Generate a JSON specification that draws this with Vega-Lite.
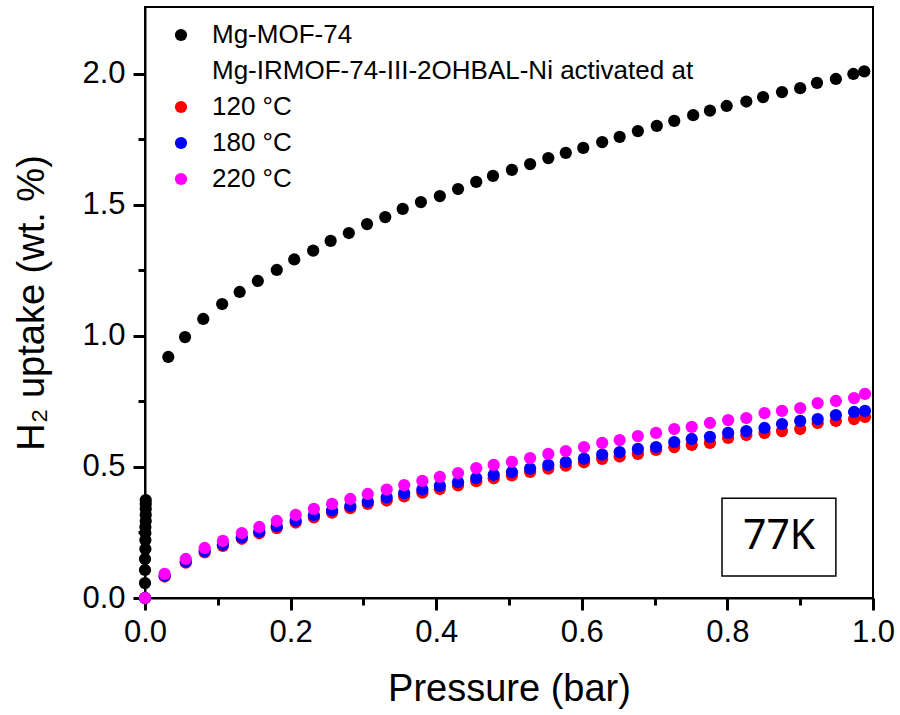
{
  "$schema": "https://vega.github.io/schema/vega-lite/v6.json",
  "width": 728,
  "height": 591,
  "autosize": {"type": "none"},
  "padding": {"left": 145, "top": 7, "right": 27, "bottom": 117},
  "background": "white",
  "config": {
    "view": {"stroke": "black", "strokeWidth": 2},
    "axis": {"grid": false, "ticks": true, "domainColor": "black", "domainWidth": 2, "tickColor": "black", "tickWidth": 3, "tickOpacity": 1, "labelColor": "black", "titleColor": "black", "labelFont": "Liberation Sans", "titleFont": "Liberation Sans", "titleFontWeight": "normal", "labelFlush": false, "labelOverlap": false}
  },
  "datasets": {
    "pts": [
      {"sample": "Mg-MOF-74", "p": 0.0, "u": 0.0},
      {"sample": "Mg-MOF-74", "p": 0.0, "u": 0.057},
      {"sample": "Mg-MOF-74", "p": 0.0, "u": 0.107},
      {"sample": "Mg-MOF-74", "p": 0.0, "u": 0.149},
      {"sample": "Mg-MOF-74", "p": 0.0005, "u": 0.187},
      {"sample": "Mg-MOF-74", "p": 0.0005, "u": 0.221},
      {"sample": "Mg-MOF-74", "p": 0.0005, "u": 0.248},
      {"sample": "Mg-MOF-74", "p": 0.0005, "u": 0.271},
      {"sample": "Mg-MOF-74", "p": 0.001, "u": 0.294},
      {"sample": "Mg-MOF-74", "p": 0.001, "u": 0.317},
      {"sample": "Mg-MOF-74", "p": 0.001, "u": 0.340},
      {"sample": "Mg-MOF-74", "p": 0.001, "u": 0.359},
      {"sample": "Mg-MOF-74", "p": 0.001, "u": 0.374},
      {"sample": "Mg-MOF-74", "p": 0.032, "u": 0.920},
      {"sample": "Mg-MOF-74", "p": 0.055, "u": 0.996},
      {"sample": "Mg-MOF-74", "p": 0.080, "u": 1.065},
      {"sample": "Mg-MOF-74", "p": 0.106, "u": 1.122},
      {"sample": "Mg-MOF-74", "p": 0.130, "u": 1.168},
      {"sample": "Mg-MOF-74", "p": 0.155, "u": 1.210},
      {"sample": "Mg-MOF-74", "p": 0.181, "u": 1.252},
      {"sample": "Mg-MOF-74", "p": 0.205, "u": 1.292},
      {"sample": "Mg-MOF-74", "p": 0.231, "u": 1.326},
      {"sample": "Mg-MOF-74", "p": 0.255, "u": 1.363},
      {"sample": "Mg-MOF-74", "p": 0.280, "u": 1.393},
      {"sample": "Mg-MOF-74", "p": 0.305, "u": 1.427},
      {"sample": "Mg-MOF-74", "p": 0.330, "u": 1.454},
      {"sample": "Mg-MOF-74", "p": 0.354, "u": 1.485},
      {"sample": "Mg-MOF-74", "p": 0.379, "u": 1.511},
      {"sample": "Mg-MOF-74", "p": 0.405, "u": 1.534},
      {"sample": "Mg-MOF-74", "p": 0.430, "u": 1.561},
      {"sample": "Mg-MOF-74", "p": 0.455, "u": 1.588},
      {"sample": "Mg-MOF-74", "p": 0.478, "u": 1.611},
      {"sample": "Mg-MOF-74", "p": 0.504, "u": 1.634},
      {"sample": "Mg-MOF-74", "p": 0.529, "u": 1.656},
      {"sample": "Mg-MOF-74", "p": 0.554, "u": 1.679},
      {"sample": "Mg-MOF-74", "p": 0.578, "u": 1.699},
      {"sample": "Mg-MOF-74", "p": 0.602, "u": 1.718},
      {"sample": "Mg-MOF-74", "p": 0.628, "u": 1.740},
      {"sample": "Mg-MOF-74", "p": 0.652, "u": 1.760},
      {"sample": "Mg-MOF-74", "p": 0.677, "u": 1.782},
      {"sample": "Mg-MOF-74", "p": 0.703, "u": 1.802},
      {"sample": "Mg-MOF-74", "p": 0.727, "u": 1.821},
      {"sample": "Mg-MOF-74", "p": 0.753, "u": 1.843},
      {"sample": "Mg-MOF-74", "p": 0.776, "u": 1.860},
      {"sample": "Mg-MOF-74", "p": 0.799, "u": 1.878},
      {"sample": "Mg-MOF-74", "p": 0.826, "u": 1.895},
      {"sample": "Mg-MOF-74", "p": 0.849, "u": 1.912},
      {"sample": "Mg-MOF-74", "p": 0.875, "u": 1.931},
      {"sample": "Mg-MOF-74", "p": 0.900, "u": 1.946},
      {"sample": "Mg-MOF-74", "p": 0.923, "u": 1.966},
      {"sample": "Mg-MOF-74", "p": 0.949, "u": 1.981},
      {"sample": "Mg-MOF-74", "p": 0.973, "u": 2.000},
      {"sample": "Mg-MOF-74", "p": 0.988, "u": 2.010},

      {"sample": "120 °C", "p": 0.0, "u": 0.0},
      {"sample": "120 °C", "p": 0.027, "u": 0.082},
      {"sample": "120 °C", "p": 0.056, "u": 0.135},
      {"sample": "120 °C", "p": 0.082, "u": 0.174},
      {"sample": "120 °C", "p": 0.107, "u": 0.199},
      {"sample": "120 °C", "p": 0.133, "u": 0.226},
      {"sample": "120 °C", "p": 0.157, "u": 0.247},
      {"sample": "120 °C", "p": 0.181, "u": 0.267},
      {"sample": "120 °C", "p": 0.207, "u": 0.288},
      {"sample": "120 °C", "p": 0.232, "u": 0.308},
      {"sample": "120 °C", "p": 0.257, "u": 0.326},
      {"sample": "120 °C", "p": 0.282, "u": 0.343},
      {"sample": "120 °C", "p": 0.306, "u": 0.359},
      {"sample": "120 °C", "p": 0.332, "u": 0.372},
      {"sample": "120 °C", "p": 0.356, "u": 0.388},
      {"sample": "120 °C", "p": 0.381, "u": 0.402},
      {"sample": "120 °C", "p": 0.405, "u": 0.416},
      {"sample": "120 °C", "p": 0.430, "u": 0.430},
      {"sample": "120 °C", "p": 0.455, "u": 0.446},
      {"sample": "120 °C", "p": 0.479, "u": 0.457},
      {"sample": "120 °C", "p": 0.504, "u": 0.468},
      {"sample": "120 °C", "p": 0.529, "u": 0.481},
      {"sample": "120 °C", "p": 0.554, "u": 0.494},
      {"sample": "120 °C", "p": 0.578, "u": 0.505},
      {"sample": "120 °C", "p": 0.603, "u": 0.518},
      {"sample": "120 °C", "p": 0.628, "u": 0.531},
      {"sample": "120 °C", "p": 0.652, "u": 0.540},
      {"sample": "120 °C", "p": 0.677, "u": 0.550},
      {"sample": "120 °C", "p": 0.702, "u": 0.565},
      {"sample": "120 °C", "p": 0.727, "u": 0.576},
      {"sample": "120 °C", "p": 0.751, "u": 0.584},
      {"sample": "120 °C", "p": 0.776, "u": 0.592},
      {"sample": "120 °C", "p": 0.801, "u": 0.611},
      {"sample": "120 °C", "p": 0.826, "u": 0.622},
      {"sample": "120 °C", "p": 0.851, "u": 0.630},
      {"sample": "120 °C", "p": 0.875, "u": 0.637},
      {"sample": "120 °C", "p": 0.900, "u": 0.645},
      {"sample": "120 °C", "p": 0.924, "u": 0.668},
      {"sample": "120 °C", "p": 0.949, "u": 0.676},
      {"sample": "120 °C", "p": 0.974, "u": 0.683},
      {"sample": "120 °C", "p": 0.989, "u": 0.691},

      {"sample": "180 °C", "p": 0.0, "u": 0.0},
      {"sample": "180 °C", "p": 0.027, "u": 0.085},
      {"sample": "180 °C", "p": 0.056, "u": 0.139},
      {"sample": "180 °C", "p": 0.082, "u": 0.179},
      {"sample": "180 °C", "p": 0.107, "u": 0.204},
      {"sample": "180 °C", "p": 0.133, "u": 0.232},
      {"sample": "180 °C", "p": 0.157, "u": 0.253},
      {"sample": "180 °C", "p": 0.181, "u": 0.274},
      {"sample": "180 °C", "p": 0.207, "u": 0.295},
      {"sample": "180 °C", "p": 0.232, "u": 0.316},
      {"sample": "180 °C", "p": 0.257, "u": 0.334},
      {"sample": "180 °C", "p": 0.282, "u": 0.351},
      {"sample": "180 °C", "p": 0.306, "u": 0.368},
      {"sample": "180 °C", "p": 0.332, "u": 0.384},
      {"sample": "180 °C", "p": 0.356, "u": 0.400},
      {"sample": "180 °C", "p": 0.381, "u": 0.414},
      {"sample": "180 °C", "p": 0.405, "u": 0.428},
      {"sample": "180 °C", "p": 0.430, "u": 0.442},
      {"sample": "180 °C", "p": 0.455, "u": 0.458},
      {"sample": "180 °C", "p": 0.479, "u": 0.470},
      {"sample": "180 °C", "p": 0.504, "u": 0.481},
      {"sample": "180 °C", "p": 0.529, "u": 0.494},
      {"sample": "180 °C", "p": 0.554, "u": 0.508},
      {"sample": "180 °C", "p": 0.578, "u": 0.519},
      {"sample": "180 °C", "p": 0.603, "u": 0.532},
      {"sample": "180 °C", "p": 0.628, "u": 0.547},
      {"sample": "180 °C", "p": 0.652, "u": 0.557},
      {"sample": "180 °C", "p": 0.677, "u": 0.569},
      {"sample": "180 °C", "p": 0.702, "u": 0.576},
      {"sample": "180 °C", "p": 0.727, "u": 0.595},
      {"sample": "180 °C", "p": 0.751, "u": 0.607},
      {"sample": "180 °C", "p": 0.776, "u": 0.615},
      {"sample": "180 °C", "p": 0.801, "u": 0.630},
      {"sample": "180 °C", "p": 0.826, "u": 0.637},
      {"sample": "180 °C", "p": 0.851, "u": 0.649},
      {"sample": "180 °C", "p": 0.875, "u": 0.664},
      {"sample": "180 °C", "p": 0.900, "u": 0.676},
      {"sample": "180 °C", "p": 0.924, "u": 0.683},
      {"sample": "180 °C", "p": 0.949, "u": 0.698},
      {"sample": "180 °C", "p": 0.974, "u": 0.710},
      {"sample": "180 °C", "p": 0.989, "u": 0.714},

      {"sample": "220 °C", "p": 0.0, "u": 0.0},
      {"sample": "220 °C", "p": 0.027, "u": 0.092},
      {"sample": "220 °C", "p": 0.056, "u": 0.149},
      {"sample": "220 °C", "p": 0.082, "u": 0.191},
      {"sample": "220 °C", "p": 0.107, "u": 0.218},
      {"sample": "220 °C", "p": 0.133, "u": 0.248},
      {"sample": "220 °C", "p": 0.157, "u": 0.271},
      {"sample": "220 °C", "p": 0.181, "u": 0.294},
      {"sample": "220 °C", "p": 0.207, "u": 0.317},
      {"sample": "220 °C", "p": 0.232, "u": 0.340},
      {"sample": "220 °C", "p": 0.257, "u": 0.359},
      {"sample": "220 °C", "p": 0.282, "u": 0.378},
      {"sample": "220 °C", "p": 0.306, "u": 0.397},
      {"sample": "220 °C", "p": 0.332, "u": 0.414},
      {"sample": "220 °C", "p": 0.356, "u": 0.431},
      {"sample": "220 °C", "p": 0.381, "u": 0.447},
      {"sample": "220 °C", "p": 0.405, "u": 0.462},
      {"sample": "220 °C", "p": 0.430, "u": 0.477},
      {"sample": "220 °C", "p": 0.455, "u": 0.496},
      {"sample": "220 °C", "p": 0.479, "u": 0.508},
      {"sample": "220 °C", "p": 0.504, "u": 0.520},
      {"sample": "220 °C", "p": 0.529, "u": 0.534},
      {"sample": "220 °C", "p": 0.554, "u": 0.550},
      {"sample": "220 °C", "p": 0.578, "u": 0.561},
      {"sample": "220 °C", "p": 0.603, "u": 0.576},
      {"sample": "220 °C", "p": 0.628, "u": 0.592},
      {"sample": "220 °C", "p": 0.652, "u": 0.603},
      {"sample": "220 °C", "p": 0.677, "u": 0.618},
      {"sample": "220 °C", "p": 0.702, "u": 0.630},
      {"sample": "220 °C", "p": 0.727, "u": 0.645},
      {"sample": "220 °C", "p": 0.751, "u": 0.653},
      {"sample": "220 °C", "p": 0.776, "u": 0.668},
      {"sample": "220 °C", "p": 0.801, "u": 0.679},
      {"sample": "220 °C", "p": 0.826, "u": 0.687},
      {"sample": "220 °C", "p": 0.851, "u": 0.706},
      {"sample": "220 °C", "p": 0.875, "u": 0.714},
      {"sample": "220 °C", "p": 0.900, "u": 0.725},
      {"sample": "220 °C", "p": 0.924, "u": 0.744},
      {"sample": "220 °C", "p": 0.949, "u": 0.752},
      {"sample": "220 °C", "p": 0.974, "u": 0.763},
      {"sample": "220 °C", "p": 0.989, "u": 0.779}
    ],
    "note": [{"label": "77K"}]
  },
  "layer": [
    {
      "data": {"name": "pts"},
      "mark": {"type": "point", "filled": true, "shape": "circle", "size": 0, "opacity": 0, "strokeWidth": 0},
      "encoding": {
        "x": {"field": "p", "type": "quantitative", "scale": {"domain": [0, 1], "nice": false, "zero": false},
          "axis": {"orient": "bottom", "values": [0.1, 0.3, 0.5, 0.7, 0.9], "labels": false, "domain": false, "ticks": true, "tickSize": 7, "title": null}},
        "y": {"field": "u", "type": "quantitative", "scale": {"domain": [0, 2.2557], "nice": false, "zero": false},
          "axis": {"orient": "left", "values": [0.25, 0.75, 1.25, 1.75], "labels": false, "domain": false, "ticks": true, "tickSize": 7, "title": null}}
      }
    },
    {
      "data": {"name": "pts"},
      "mark": {"type": "point", "filled": true, "shape": "circle", "size": 150, "opacity": 1, "strokeWidth": 0},
      "encoding": {
        "x": {"field": "p", "type": "quantitative", "scale": {"domain": [0, 1], "nice": false, "zero": false},
          "axis": {"orient": "bottom", "values": [0, 0.2, 0.4, 0.6, 0.8, 1.0], "format": ".1f", "labelFontSize": 31, "labelFlush": false, "ticks": true, "tickSize": 12, "labelPadding": 7, "title": "Pressure (bar)", "titleFontSize": 38, "titleBaseline": "alphabetic", "titleY": 102}},
        "y": {"field": "u", "type": "quantitative", "scale": {"domain": [0, 2.2557], "nice": false, "zero": false},
          "axis": {"orient": "left", "values": [0, 0.5, 1.0, 1.5, 2.0], "format": ".1f", "labelFontSize": 31, "labelFlush": false, "ticks": true, "tickSize": 12, "labelPadding": 8, "title": "H₂ uptake (wt. %)", "titleFontSize": 38, "titleBaseline": "alphabetic", "titleX": -102, "titleY": 295.5}},
        "color": {"field": "sample", "type": "nominal",
          "scale": {"domain": ["Mg-MOF-74", "Mg-IRMOF-74-III-2OHBAL-Ni activated at", "120 °C", "180 °C", "220 °C"], "range": ["#000000", "transparent", "#ff0000", "#0000ff", "#ff00ff"]},
          "legend": {"orient": "none", "legendX": 23, "legendY": 15, "title": null, "labelFont": "Liberation Sans", "labelFontSize": 26, "labelColor": "black", "symbolType": "circle", "symbolSize": 150, "symbolStrokeWidth": 0, "rowPadding": 10, "labelOffset": 18, "padding": 0, "labelLimit": 700}}
      }
    },
    {
      "data": {"name": "note"},
      "mark": {"type": "rect", "fill": "white", "stroke": "black", "strokeWidth": 1.5},
      "encoding": {
        "x": {"datum": 0.7926, "type": "quantitative", "scale": {"domain": [0, 1], "nice": false, "zero": false}, "axis": null},
        "x2": {"datum": 0.949},
        "y": {"datum": 0.381, "type": "quantitative", "scale": {"domain": [0, 2.2557], "nice": false, "zero": false}, "axis": null},
        "y2": {"datum": 0.084}
      }
    },
    {
      "data": {"name": "note"},
      "mark": {"type": "text", "font": "Noto Sans", "fontSize": 41, "color": "black", "align": "center", "baseline": "middle"},
      "encoding": {
        "text": {"field": "label"},
        "x": {"datum": 0.871, "type": "quantitative", "scale": {"domain": [0, 1], "nice": false, "zero": false}, "axis": null},
        "y": {"datum": 0.233, "type": "quantitative", "scale": {"domain": [0, 2.2557], "nice": false, "zero": false}, "axis": null}
      }
    }
  ],
  "resolve": {"scale": {"x": "independent", "y": "independent"}, "axis": {"x": "independent", "y": "independent"}}
}
